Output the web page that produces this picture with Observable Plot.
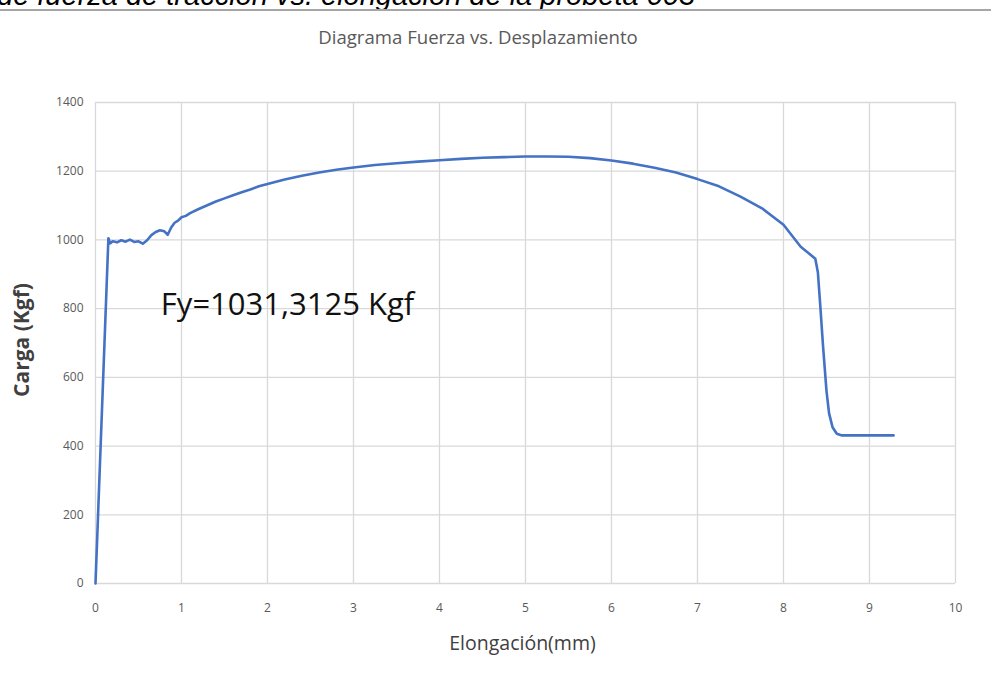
<!DOCTYPE html>
<html>
<head>
<meta charset="utf-8">
<script src="https://cdn.jsdelivr.net/npm/d3@7"></script>
<script src="https://cdn.jsdelivr.net/npm/@observablehq/plot@0.6"></script>
<style>
  html, body { margin: 0; padding: 0; background: #fff; width: 991px; height: 678px; overflow: hidden; position: relative; }
  #doc { position: absolute; left: -3px; top: -19px; font-family: "Liberation Sans", Arial, sans-serif; font-style: italic; font-size: 29px; line-height: 29px; white-space: nowrap; color: #000; z-index: 2; }
  #rule { position: absolute; left: 0; top: 9px; width: 991px; height: 2px; background: #a6a6a6; z-index: 3; }
  #title { position: absolute; left: 478px; top: 27px; transform: translateX(-50%); font-family: "Open Sans", sans-serif; font-size: 18.6px; line-height: 20px; color: #595959; white-space: nowrap; z-index: 2; }
  #chart { position: absolute; left: 0; top: 0; }
</style>
</head>
<body>
<div id="doc"></div>
<div id="rule"></div>
<div id="title"></div>
<div id="chart"></div>
<script>
// ---- Data ----
const docCaption = "de fuerza de tracción vs. elongación de la probeta 003";
const chartTitle = "Diagrama Fuerza vs. Desplazamiento";
const xLabel = "Elongación(mm)";
const yLabel = "Carga (Kgf)";

const xTicks = [0, 1, 2, 3, 4, 5, 6, 7, 8, 9, 10];
const yTicks = [0, 200, 400, 600, 800, 1000, 1200, 1400];

const elongation = [0, 0.15, 0.17, 0.2, 0.25, 0.3, 0.35, 0.4, 0.45, 0.5, 0.55, 0.6, 0.65, 0.7, 0.75, 0.8, 0.84, 0.88, 0.92, 0.96,
  1.0, 1.05, 1.1, 1.2, 1.3, 1.4, 1.5, 1.6, 1.7, 1.8, 1.9, 2.0, 2.2, 2.4, 2.6, 2.8, 3.0, 3.25, 3.5, 3.75,
  4.0, 4.25, 4.5, 4.75, 5.0, 5.25, 5.5, 5.75, 6.0, 6.25, 6.5, 6.75, 7.0, 7.25, 7.5, 7.75, 8.0, 8.1, 8.2, 8.3, 8.37,
  8.4, 8.43, 8.46, 8.5, 8.53, 8.57, 8.62, 8.68, 9.0, 9.28];
const load = [0, 1005, 990, 996, 993, 999, 995, 1001, 994, 996, 989, 999, 1014, 1023, 1028, 1025, 1015, 1036, 1050, 1056,
  1066, 1070, 1078, 1090, 1101, 1112, 1121, 1130, 1139, 1147, 1156, 1163, 1176, 1187, 1196, 1204, 1211, 1218, 1223, 1228,
  1232, 1236, 1239, 1241, 1243, 1243, 1242, 1238, 1231, 1222, 1210, 1196, 1177, 1156, 1126, 1092, 1044, 1012, 980, 960, 945,
  905, 800, 690, 560, 495, 455, 436, 431, 431, 431];

const annotX = [0.76];
const annotY = [810];
const annotText = ["Fy=1031,3125 Kgf"];

// ---- Build ----
document.getElementById("doc").textContent = docCaption;
document.getElementById("title").textContent = chartTitle;

const points = elongation.map((x, i) => ({x, y: load[i]}));
const annotations = annotX.map((x, i) => ({x, y: annotY[i], text: annotText[i]}));

const chart = Plot.plot({
  width: 991,
  height: 678,
  marginTop: 102,
  marginBottom: 95,
  marginLeft: 95,
  marginRight: 36,
  style: {fontFamily: "'Open Sans', sans-serif", background: "transparent"},
  x: {domain: [0, 10]},
  y: {domain: [0, 1400]},
  marks: [
    Plot.gridX(xTicks, {stroke: "#d9d9d9", strokeOpacity: 1, strokeWidth: 1.3}),
    Plot.gridY(yTicks, {stroke: "#d9d9d9", strokeOpacity: 1, strokeWidth: 1.3}),
    Plot.axisX({ticks: xTicks, tickSize: 0, tickPadding: 20, label: null, fontSize: 12, color: "#595959", tickFormat: d => String(d)}),
    Plot.axisY({ticks: yTicks, tickSize: 0, tickPadding: 12, label: null, fontSize: 12, color: "#595959", tickFormat: d => String(d)}),
    Plot.line(points, {x: "x", y: "y", stroke: "#4472c4", strokeWidth: 2.6, strokeLinejoin: "round"}),
    Plot.text(annotations, {x: "x", y: "y", text: "text", textAnchor: "start", lineAnchor: "middle", fontSize: 31, fill: "#111"}),
    Plot.text([xLabel], {text: d => d, frameAnchor: "bottom", textAnchor: "middle", lineAnchor: "middle", dy: 60, dx: -3, fontSize: 19.5, fill: "#404040"}),
    Plot.text([yLabel], {text: d => d, frameAnchor: "left", textAnchor: "middle", lineAnchor: "middle", dx: -73, dy: -3, rotate: -90, fontSize: 21, fontWeight: "bold", fill: "#404040"})
  ]
});
document.getElementById("chart").appendChild(chart);
</script>
</body>
</html>
